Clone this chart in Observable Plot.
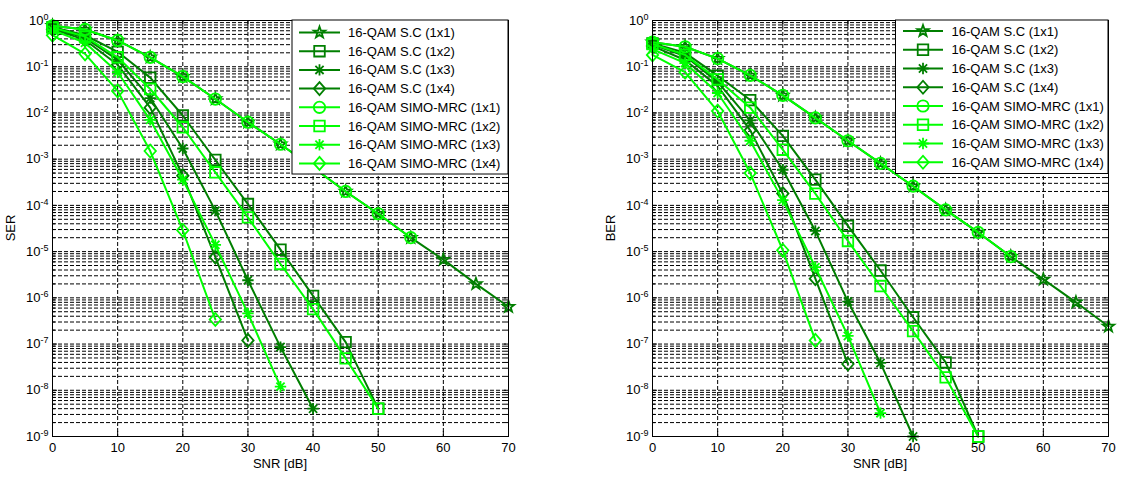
<!DOCTYPE html>
<html><head><meta charset="utf-8">
<script src="https://cdn.jsdelivr.net/npm/d3@7"></script>
<script src="https://cdn.jsdelivr.net/npm/@observablehq/plot@0.6"></script>
<style>
body{margin:0;background:#fff;}
#wrap{display:flex;width:1139px;height:485px;overflow:hidden;}
svg text{font-family:"Liberation Sans",Arial,sans-serif;}
</style></head><body><div id="wrap"></div>
<script>
// SNR axis values (dB)
const snr = [0,5,10,15,20,25,30,35,40,45,50,55,60,65,70];
const xTicks = [0,10,20,30,40,50,60,70];
const yExponents = [-9,-8,-7,-6,-5,-4,-3,-2,-1,0];

const seriesNames = [
  "16-QAM S.C (1x1)", "16-QAM S.C (1x2)", "16-QAM S.C (1x3)", "16-QAM S.C (1x4)",
  "16-QAM SIMO-MRC (1x1)", "16-QAM SIMO-MRC (1x2)", "16-QAM SIMO-MRC (1x3)", "16-QAM SIMO-MRC (1x4)"
];
const seriesColors = ["#007f00","#007f00","#007f00","#007f00","#00ff00","#00ff00","#00ff00","#00ff00"];
const seriesMarkers = ["pentagram","square","asterisk","diamond","circle","square","asterisk","diamond"];

// SER values (left chart), starting at 0 dB, step 5 dB
const serSC1 = [0.77,0.64,0.37,0.16,0.061,0.020,0.0063,0.0021,6.6e-4,2.0e-4,6.6e-5,2.0e-5,6.7e-6,2.0e-6,6.4e-7];
const serSC2 = [0.72,0.48,0.21,0.058,0.0088,9.6e-4,1.07e-4,1.1e-5,1.1e-6,1.1e-7,4.0e-9];
const serSC3 = [0.68,0.42,0.14,0.021,1.7e-3,7.7e-5,2.4e-6,8.6e-8,4.0e-9];
const serSC4 = [0.65,0.38,0.11,0.013,4.4e-4,7.6e-6,1.2e-7];
const serMRC1 = [0.77,0.64,0.37,0.16,0.061,0.020,0.0063,0.0021,6.6e-4,2.0e-4,6.6e-5,2.0e-5];
const serMRC2 = [0.70,0.45,0.16,0.033,0.0049,5.2e-4,5.5e-5,5.4e-6,5.7e-7,4.9e-8,4.0e-9];
const serMRC3 = [0.62,0.33,0.076,0.0071,3.6e-4,1.4e-5,4.6e-7,1.2e-8];
const serMRC4 = [0.48,0.19,0.030,1.5e-3,2.9e-5,3.4e-7];

// BER values (right chart)
const berSC1 = [0.34,0.27,0.15,0.065,0.024,0.0078,0.0025,8.1e-4,2.6e-4,8.0e-5,2.6e-5,7.8e-6,2.5e-6,8.0e-7,2.4e-7];
const berSC2 = [0.32,0.20,0.064,0.019,0.0032,3.6e-4,3.6e-5,3.9e-6,3.8e-7,4.0e-8,1.0e-9];
const berSC3 = [0.30,0.17,0.047,0.0069,5.9e-4,2.8e-5,8.3e-7,3.9e-8,1.0e-9];
const berSC4 = [0.28,0.14,0.038,0.0042,1.8e-4,2.6e-6,3.7e-8];
const berMRC1 = [0.34,0.27,0.15,0.065,0.024,0.0078,0.0025,8.1e-4,2.6e-4,8.0e-5,2.6e-5,7.8e-6];
const berMRC2 = [0.31,0.18,0.053,0.013,0.0016,1.8e-4,1.7e-5,1.8e-6,1.9e-7,1.9e-8,1.0e-9];
const berMRC3 = [0.24,0.12,0.027,0.0025,1.3e-4,4.6e-6,1.5e-7,3.2e-9];
const berMRC4 = [0.18,0.076,0.011,5.0e-4,1.07e-5,1.2e-7];

const serData = [serSC1,serSC2,serSC3,serSC4,serMRC1,serMRC2,serMRC3,serMRC4];
const berData = [berSC1,berSC2,berSC3,berSC4,berMRC1,berMRC2,berMRC3,berMRC4];

// MATLAB-like marker shapes
const symbolShapes = {
  circle: {draw(c, s){ const r = Math.sqrt(s/Math.PI)*0.95; c.moveTo(r,0); c.arc(0,0,r,0,2*Math.PI); c.closePath(); }},
  square: {draw(c, s){ const h = Math.sqrt(s/Math.PI)*0.88; c.moveTo(-h,-h); c.lineTo(h,-h); c.lineTo(h,h); c.lineTo(-h,h); c.closePath(); }},
  diamond: {draw(c, s){ const r = Math.sqrt(s/Math.PI); c.moveTo(0,-r*1.08); c.lineTo(r*0.95,0); c.lineTo(0,r*1.08); c.lineTo(-r*0.95,0); c.closePath(); }},
  asterisk: {draw(c, s){ const r = Math.sqrt(s/Math.PI)*0.95, d = r*0.72;
    c.moveTo(-r,0); c.lineTo(r,0); c.moveTo(0,-r); c.lineTo(0,r);
    c.moveTo(-d,-d); c.lineTo(d,d); c.moveTo(-d,d); c.lineTo(d,-d); }},
  pentagram: {draw(c, s){ const R = Math.sqrt(s/Math.PI)*1.0, ri = R*0.4;
    for (let k = 0; k < 10; k++) { const a = -Math.PI/2 + k*Math.PI/5, rr = k%2 ? ri : R;
      const px = rr*Math.cos(a), py = rr*Math.sin(a); if (k===0) c.moveTo(px,py); else c.lineTo(px,py); }
    c.closePath(); }}
};

const majorY = yExponents.map(e => Math.pow(10, e));
const minorY = [];
yExponents.forEach(e => { if (e < 0) for (let k = 2; k <= 9; k++) minorY.push(k*Math.pow(10,e)); });
const gridYTicks = majorY.concat(minorY);

const R = 6;
const dash = {stroke:"#000", strokeOpacity:1, strokeWidth:1, strokeDasharray:"4,2"};
const noText = () => "";

function makeChart({data, yLabel, width, marginLeft, marginRight, legend}) {
  const marks = [
    Plot.gridY(gridYTicks, dash),
    Plot.gridX(xTicks.slice(1,-1), dash),
    // inward MATLAB-style tick marks
    Plot.axisX(xTicks, {anchor:"bottom", tickSize:-5, tickFormat:noText, label:null}),
    Plot.axisX(xTicks, {anchor:"top", tickSize:-5, tickFormat:noText, label:null}),
    Plot.axisY(majorY, {anchor:"left", tickSize:-5, tickFormat:noText, label:null}),
    Plot.axisY(majorY, {anchor:"right", tickSize:-5, tickFormat:noText, label:null}),
    Plot.axisY(minorY, {anchor:"left", tickSize:-3, tickFormat:noText, label:null}),
    Plot.axisY(minorY, {anchor:"right", tickSize:-3, tickFormat:noText, label:null}),
    // labels
    Plot.axisX(xTicks, {anchor:"bottom", tickSize:0, tickPadding:6, tickFormat: d => String(d), label:null, fontSize:13}),
    Plot.axisY(majorY, {anchor:"left", tickSize:0, tickPadding:4, tickFormat: d => String(Math.round(Math.log10(d))), label:null, fontSize:13})
  ];
  seriesNames.forEach((name, i) => {
    const pts = data[i].map((v, j) => ({snr: snr[j], v, series: name}));
    marks.push(Plot.line(pts, {x:"snr", y:"v", stroke: seriesColors[i], strokeWidth:2}));
    marks.push(Plot.dot(pts, {x:"snr", y:"v", symbol: symbolShapes[seriesMarkers[i]], r:R,
      stroke: seriesColors[i], strokeWidth:1.8, fill:"none"}));
  });
  marks.push(Plot.frame({stroke:"#000", strokeWidth:1}));
  const svg = Plot.plot({
    width, height:485, marginTop:20, marginBottom:49, marginLeft, marginRight,
    style:{fontFamily:"'Liberation Sans', Arial, sans-serif", fontSize:"13px", color:"#000", background:"#fff"},
    x:{domain:[0,70]},
    y:{type:"log", domain:[1e-9,1]},
    marks
  });
  const s = d3.select(svg);
  // superscript exponents on y tick labels
  s.selectAll('g[aria-label="y-axis tick label"] text').each(function(){
    const e = this.textContent;
    if (!e) return;
    const t = d3.select(this);
    t.text("10");
    t.append("tspan").attr("dy","-0.55em").attr("font-size","9px").text(e);
  });
  const fx = marginLeft + (width - marginLeft - marginRight)/2;
  s.append("text").attr("transform", `translate(${yLabel.x},${(20+436)/2}) rotate(-90)`)
    .attr("text-anchor","middle").attr("dominant-baseline","central").attr("font-size","13px").attr("fill","#000").text(yLabel.text);
  s.append("text").attr("x", fx).attr("y", 468).attr("text-anchor","middle")
    .attr("font-size","13px").attr("fill","#000").text("SNR [dB]");
  // legend
  const g = s.append("g").attr("text-anchor","start");
  g.append("rect").attr("x", legend.x).attr("y", 20).attr("width", legend.w).attr("height", legend.h)
    .attr("fill","#fff").attr("stroke","#000").attr("stroke-width",1);
  seriesNames.forEach((name, i) => {
    const y = legend.y0 + i*legend.dy;
    g.append("line").attr("x1", legend.lx1).attr("x2", legend.lx2).attr("y1", y).attr("y2", y)
      .attr("stroke", seriesColors[i]).attr("stroke-width", 2);
    g.append("path").attr("transform", `translate(${(legend.lx1+legend.lx2)/2},${y})`)
      .attr("d", d3.symbol(symbolShapes[seriesMarkers[i]], Math.PI*R*R)())
      .attr("fill","none").attr("stroke", seriesColors[i]).attr("stroke-width",1.8);
    g.append("text").attr("x", legend.tx).attr("y", y).attr("dominant-baseline","central")
      .attr("text-anchor","start").attr("font-size","13px").attr("fill","#000").text(name);
  });
  return svg;
}

const wrap = document.getElementById("wrap");
wrap.appendChild(makeChart({
  data: serData, yLabel:{text:"SER", x:10}, width:570, marginLeft:52, marginRight:62,
  legend:{x:292, w:216, h:154, y0:32.5, dy:18.7, lx1:299, lx2:340, tx:348}
}));
wrap.appendChild(makeChart({
  data: berData, yLabel:{text:"BER", x:40}, width:569, marginLeft:82, marginRight:31,
  legend:{x:325.5, w:212.5, h:153.5, y0:31, dy:18.75, lx1:333, lx2:373, tx:381.5}
}));
</script></body></html>
